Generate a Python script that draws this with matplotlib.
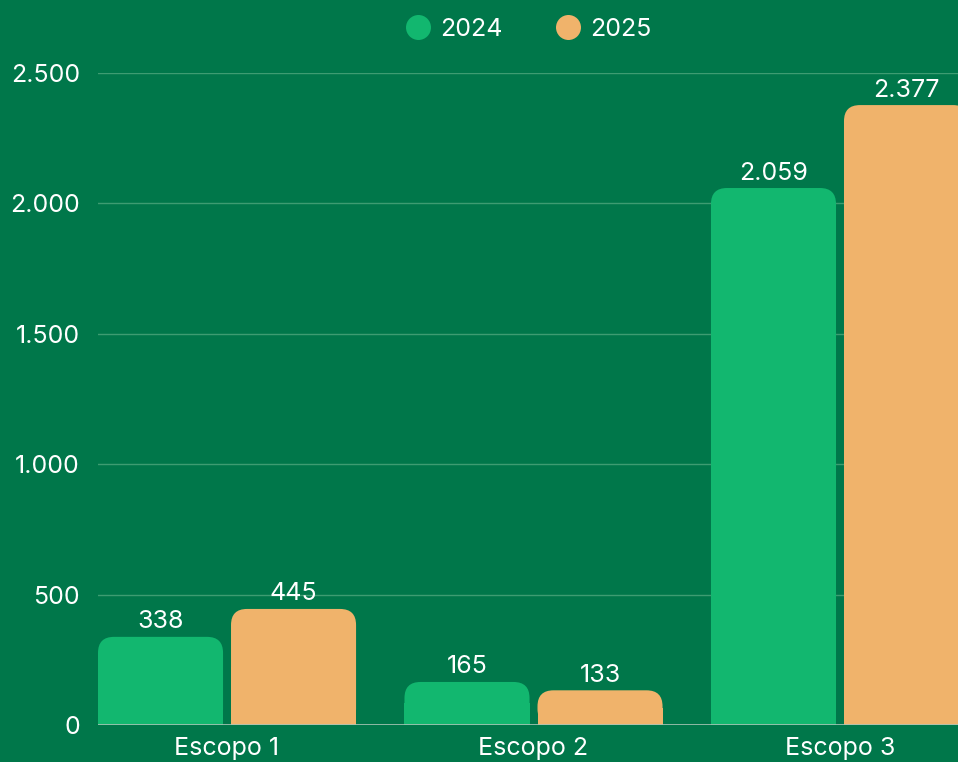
import matplotlib
matplotlib.use("Agg")
import matplotlib.pyplot as plt
import numpy as np
from matplotlib.patches import FancyBboxPatch, Rectangle
from matplotlib.lines import Line2D
from matplotlib.ticker import FuncFormatter

# dados
categorias = ["Escopo 1", "Escopo 2", "Escopo 3"]
anos = ["2024", "2025"]
valores_2024 = [338, 165, 2059]
valores_2025 = [445, 133, 2377]

fundo = "#00774A"
cor_2024 = "#12B76F"
cor_2025 = "#F0B36B"

plt.rcParams["font.family"] = ["Inter", "DejaVu Sans"]

fig = plt.figure(figsize=(9.58, 7.62), dpi=100, facecolor=fundo)
ax = fig.add_axes([98 / 958, 37 / 762, 1 - 98 / 958, (725 - 73) / 762])
ax.set_facecolor(fundo)

x = np.arange(len(categorias))
largura = 0.408
desloc = 0.217

ax.set_xlim(-0.421, 2.385)
ax.set_ylim(0, 2500)

# raio dos cantos em pixels convertido para unidades de dados
raio_px = 16
px_x = 306.5
px_y = 652 / 2500
rx = raio_px / px_x
ry = raio_px / px_y


def barra(xc, h, cor):
    x0 = xc - largura / 2
    caixa = FancyBboxPatch((x0, 0), largura, h,
                           boxstyle=f"round,pad=0,rounding_size={rx}",
                           mutation_aspect=ry / rx,
                           facecolor=cor, edgecolor="none", zorder=3)
    ax.add_patch(caixa)
    ax.add_patch(Rectangle((x0, 0), largura, h / 2, facecolor=cor,
                           edgecolor="none", zorder=3))
    rotulo = f"{h:,}".replace(",", ".")
    ax.annotate(rotulo, (xc, h), xytext=(0, 2.5), textcoords="offset points",
                ha="center", va="bottom", color="white", fontsize=18,
                annotation_clip=False, zorder=4)


for i in range(len(categorias)):
    barra(x[i] - desloc, valores_2024[i], cor_2024)
    barra(x[i] + desloc, valores_2025[i], cor_2025)

# grade
ax.set_yticks([0, 500, 1000, 1500, 2000, 2500])
ax.yaxis.set_major_formatter(FuncFormatter(lambda v, p: f"{int(v):,}".replace(",", ".")))
for v in [500, 1000, 1500, 2000, 2500]:
    ax.axhline(v, color="#3E9C72", lw=1, zorder=1)
ax.axhline(0, color="#A9C4B5", lw=1.2, zorder=4)

for s in ax.spines.values():
    s.set_visible(False)
ax.set_xticks(x)
ax.set_xticklabels(categorias)
ax.tick_params(axis="both", length=0, colors="white", labelsize=18)
ax.tick_params(axis="y", pad=13)
ax.tick_params(axis="x", pad=9)

# legenda
alcas = [Line2D([], [], marker="o", ls="none", markersize=18, markerfacecolor=c,
                markeredgecolor="none") for c in [cor_2024, cor_2025]]
leg = fig.legend(alcas, anos, loc="center", bbox_to_anchor=(527 / 958, 1 - 29 / 762),
                 ncol=2, frameon=False, fontsize=18, labelcolor="white",
                 handletextpad=0.3, columnspacing=2.0, handlelength=1.2)

fig.savefig("out.png", dpi=100, facecolor=fundo)
